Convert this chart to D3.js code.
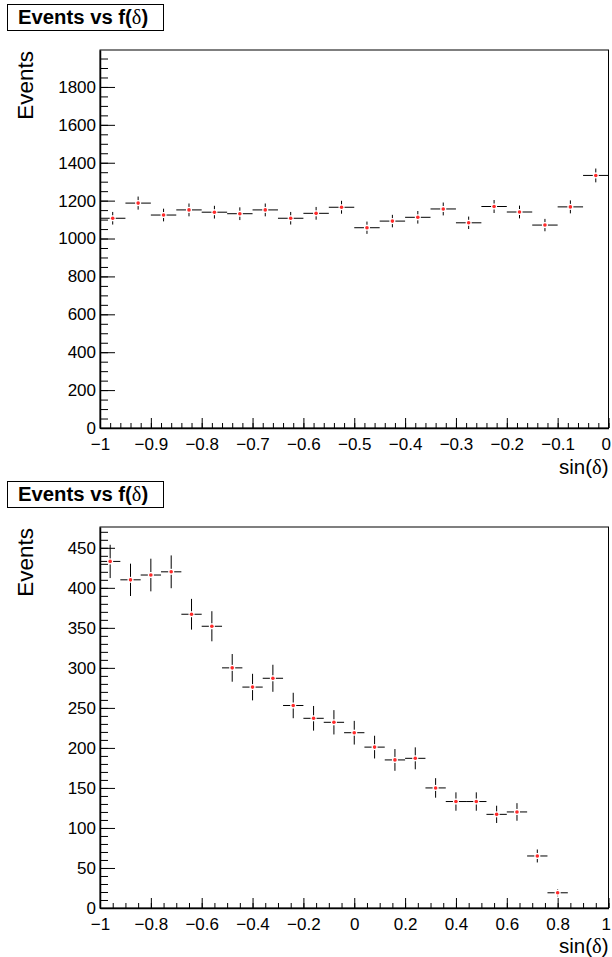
<!DOCTYPE html>
<html>
<head>
<meta charset="utf-8">
<script src="https://cdn.jsdelivr.net/npm/d3@7"></script>
<style>
  body { margin: 0; background: #fff; }
  svg { display: block; }
  text { font-family: "Liberation Sans", Arial, Helvetica, sans-serif; fill: #000; }
</style>
</head>
<body>
<svg id="chart" width="612" height="957"></svg>
<script>
// ---- data ----
const histTitle = "Events vs f(";
const xTitle = "sin(";
const yTitle = "Events";

// upper histogram: 20 bins on [-1, 0]
const topBinCenters = [-0.975, -0.925, -0.875, -0.825, -0.775, -0.725, -0.675, -0.625, -0.575, -0.525,
                       -0.475, -0.425, -0.375, -0.325, -0.275, -0.225, -0.175, -0.125, -0.075, -0.025];
const topBinHalfWidth = 0.025;
const topCounts = [1107, 1187, 1124, 1151, 1139, 1131, 1151, 1107, 1133, 1165,
                   1057, 1092, 1112, 1156, 1083, 1169, 1140, 1071, 1167, 1333];
const topErrors = [33.3, 34.5, 33.5, 33.9, 33.7, 33.6, 33.9, 33.3, 33.7, 34.1,
                   32.5, 33.0, 33.3, 34.0, 32.9, 34.2, 33.8, 32.7, 34.2, 36.5];
const topXTicks = [-1, -0.9, -0.8, -0.7, -0.6, -0.5, -0.4, -0.3, -0.2, -0.1, 0];
const topYTicks = [0, 200, 400, 600, 800, 1000, 1200, 1400, 1600, 1800];

// lower histogram: 25 bins on [-1, 1]
const botBinCenters = [-0.96, -0.88, -0.80, -0.72, -0.64, -0.56, -0.48, -0.40, -0.32, -0.24,
                       -0.16, -0.08, 0.00, 0.08, 0.16, 0.24, 0.32, 0.40, 0.48, 0.56,
                       0.64, 0.72, 0.80, 0.88, 0.96];
const botBinHalfWidth = 0.04;
const botCounts = [433, 410, 416, 420, 367, 352, 300, 276, 287, 253,
                   237, 232, 219, 201, 185, 187, 150, 133, 133, 117,
                   120, 65, 19, 0, 0];
const botErrors = [20.8, 20.2, 20.4, 20.5, 19.2, 18.8, 17.3, 16.6, 16.9, 15.9,
                   15.4, 15.2, 14.8, 14.2, 13.6, 13.7, 12.2, 11.5, 11.5, 10.8,
                   11.0, 8.1, 4.4, 0, 0];
const botXTicks = [-1, -0.8, -0.6, -0.4, -0.2, 0, 0.2, 0.4, 0.6, 0.8, 1];
const botYTicks = [0, 50, 100, 150, 200, 250, 300, 350, 400, 450];

// ---- layout ----
const panels = [
  {
    titleY: 4.5, frame: { x0: 100, x1: 608.5, y0: 50, y1: 428 }, xTitleY: 474,
    xDomain: [-1, 0], yDomain: [0, 1995],
    centers: topBinCenters, half: topBinHalfWidth, counts: topCounts, errors: topErrors,
    xTicks: topXTicks, yTicks: topYTicks, xMinorStep: 0.02, yMinorStep: 50
  },
  {
    titleY: 481.5, frame: { x0: 100, x1: 608.5, y0: 527, y1: 908 }, xTitleY: 952.5,
    xDomain: [-1, 1], yDomain: [0, 476],
    centers: botBinCenters, half: botBinHalfWidth, counts: botCounts, errors: botErrors,
    xTicks: botXTicks, yTicks: botYTicks, xMinorStep: 0.05, yMinorStep: 10
  }
];

const svg = d3.select("#chart");
const pageWidth = +svg.attr("width");

function minorTicks(domain, step) {
  const out = [];
  const n = Math.round((domain[1] - domain[0]) / step);
  for (let i = 0; i <= n; i++) {
    const v = +(domain[0] + i * step).toFixed(6);
    if (v >= domain[0] && v <= domain[1]) out.push(v);
  }
  return out;
}

panels.forEach(p => {
  const g = svg.append("g");
  const f = p.frame;
  const x = d3.scaleLinear().domain(p.xDomain).range([f.x0, f.x1]);
  const y = d3.scaleLinear().domain(p.yDomain).range([f.y1, f.y0]);

  // frame
  g.append("rect")
    .attr("x", f.x0).attr("y", f.y0)
    .attr("width", f.x1 - f.x0).attr("height", f.y1 - f.y0)
    .attr("fill", "none").attr("stroke", "#000").attr("stroke-width", 1);

  // minor ticks
  g.append("g").attr("transform", `translate(0,${f.y1})`)
    .call(d3.axisBottom(x).tickValues(minorTicks(p.xDomain, p.xMinorStep)).tickSize(-5).tickFormat(""))
    .call(a => a.select(".domain").remove());
  g.append("g").attr("transform", `translate(${f.x0},0)`)
    .call(d3.axisLeft(y).tickValues(minorTicks(p.yDomain, p.yMinorStep)).tickSize(-8).tickFormat(""))
    .call(a => a.select(".domain").remove());

  // major ticks and labels
  const xa = g.append("g").attr("transform", `translate(0,${f.y1})`)
    .call(d3.axisBottom(x).tickValues(p.xTicks).tickSize(-10).tickSizeOuter(0)
      .tickPadding(10).tickFormat(d3.format("~g")));
  const ya = g.append("g").attr("transform", `translate(${f.x0},0)`)
    .call(d3.axisLeft(y).tickValues(p.yTicks).tickSize(-15).tickSizeOuter(0)
      .tickPadding(4).tickFormat(d3.format("d")));
  [xa, ya].forEach(a => {
    a.selectAll("text").style("font-size", "17px").attr("fill", "#000");
    a.selectAll("line").attr("stroke", "#000");
    a.select(".domain").attr("stroke", "#000").attr("stroke-width", 1.5);
  });
  g.selectAll(".tick line").attr("stroke", "#000");

  // keep the last x label inside the page
  xa.selectAll(".tick text").each(function () {
    const tick = this.parentNode;
    const tx = +tick.getAttribute("transform").match(/translate\(([-\d.]+)/)[1];
    const w = this.getComputedTextLength();
    const over = tx + w / 2 - (pageWidth - 1);
    if (over > 0) d3.select(this).attr("x", -over);
  });

  // axis titles
  const xt = g.append("text")
    .attr("x", f.x1).attr("y", p.xTitleY)
    .attr("text-anchor", "end").style("font-size", "20.5px");
  xt.append("tspan").text(xTitle);
  xt.append("tspan").style("font-family", "'Liberation Serif', 'DejaVu Serif', serif").text("δ");
  xt.append("tspan").text(")");

  g.append("text")
    .attr("transform", `translate(33,${f.y0 + 1}) rotate(-90)`)
    .attr("text-anchor", "end").style("font-size", "22.5px")
    .text(yTitle);

  // data points with error bars
  const gap = 3;
  p.centers.forEach((c, i) => {
    const n = p.counts[i];
    if (n <= 0) return;
    const e = p.errors[i];
    const cx = x(c), cy = y(n);
    const xl = x(c - p.half), xr = x(c + p.half);
    const yt = y(n + e), yb = y(n - e);
    const pts = g.append("g").attr("stroke", "#000").attr("stroke-width", 1);
    pts.append("line").attr("x1", xl).attr("x2", cx - gap).attr("y1", cy).attr("y2", cy);
    pts.append("line").attr("x1", cx + gap).attr("x2", xr).attr("y1", cy).attr("y2", cy);
    if (cy - yt > gap) {
      pts.append("line").attr("x1", cx).attr("x2", cx).attr("y1", yt).attr("y2", cy - gap);
      pts.append("line").attr("x1", cx).attr("x2", cx).attr("y1", cy + gap).attr("y2", yb);
    }
    g.append("circle").attr("cx", cx).attr("cy", cy).attr("r", 1.8).attr("fill", "#ff2a2a");
  });

  // title box
  const tb = g.append("g");
  tb.append("rect")
    .attr("x", 7.5).attr("y", p.titleY).attr("width", 156).attr("height", 26)
    .attr("fill", "#fff").attr("stroke", "#000").attr("stroke-width", 1);
  const tt = tb.append("text")
    .attr("x", 18).attr("y", p.titleY + 19)
    .style("font-size", "20.3px").style("font-weight", "bold");
  tt.append("tspan").text(histTitle);
  tt.append("tspan").style("font-family", "'Liberation Serif', 'DejaVu Serif', serif")
    .style("font-weight", "normal").text("δ");
  tt.append("tspan").text(")");
});
</script>
</body>
</html>
